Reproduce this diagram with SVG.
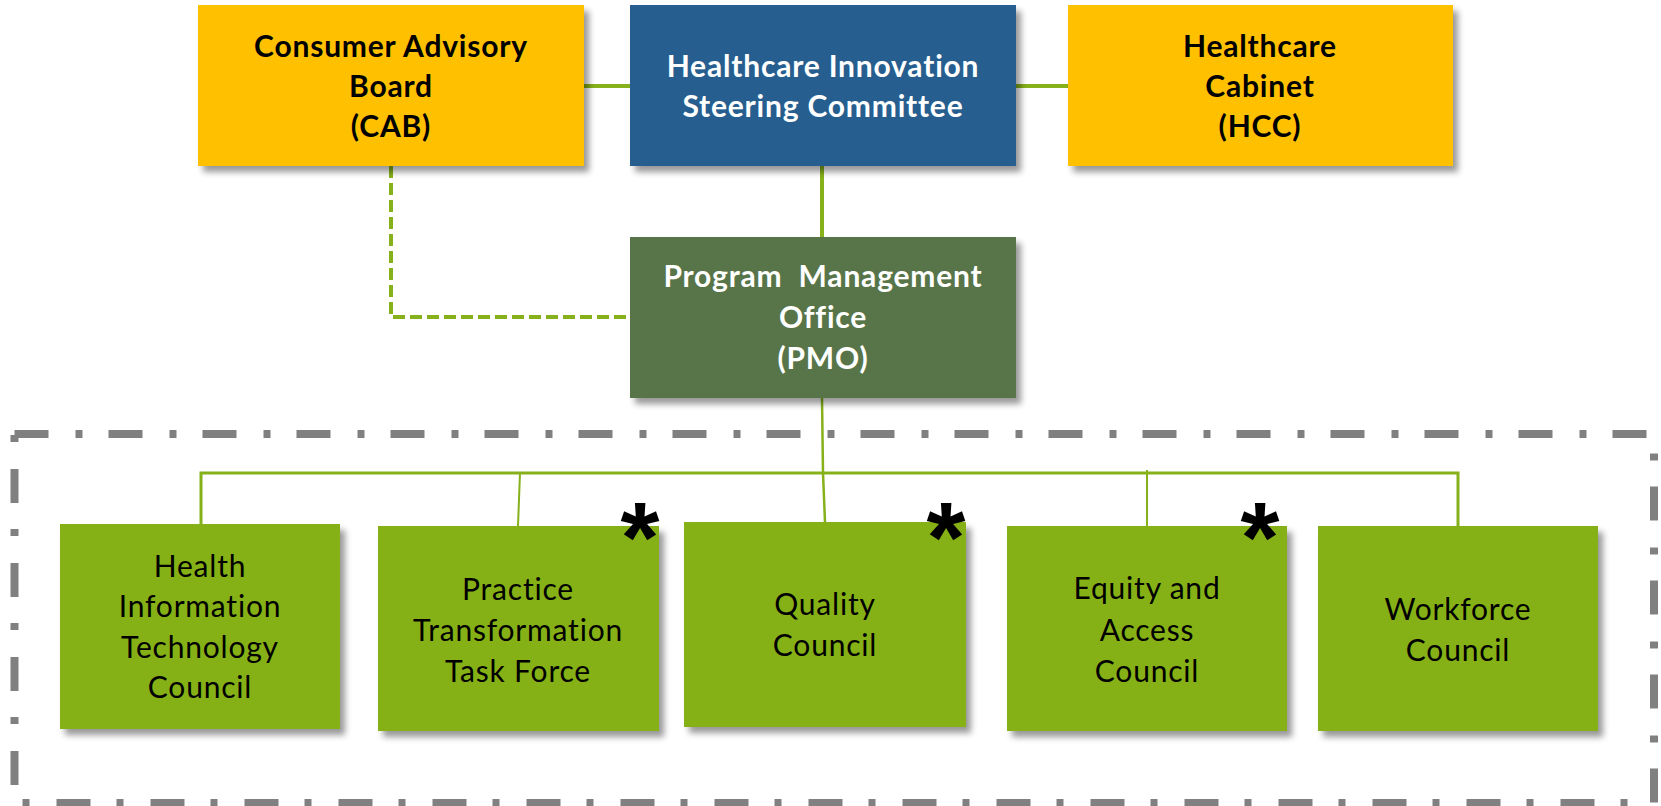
<svg xmlns="http://www.w3.org/2000/svg" width="1661" height="806" viewBox="0 0 1661 806">
<style>
.t{font-family:Lato,"Open Sans","Liberation Sans",sans-serif;font-size:30px;letter-spacing:0.8px;text-anchor:middle}
.b{font-weight:bold}
.w{fill:#ffffff}
.k{fill:#000000}
.ast{font-family:"Liberation Sans",Arial,sans-serif;font-size:100px;font-weight:bold;text-anchor:middle;fill:#000}
.c{fill:none;stroke:#86B11A}
</style>
<defs>
<filter id="sh" x="-10%" y="-10%" width="130%" height="130%">
<feDropShadow dx="5" dy="6" stdDeviation="3" flood-color="#000" flood-opacity="0.4"/>
</filter>
</defs>
<rect width="1661" height="806" fill="#ffffff"/>
<rect id="frame" x="14.5" y="434" width="1639.5" height="369" fill="none" stroke="#808080" stroke-width="8" stroke-dasharray="34 27 7 26"/>
<g id="connectors">
<line class="c" x1="584" y1="86" x2="630" y2="86" stroke-width="4"/>
<line class="c" x1="1016" y1="86" x2="1068" y2="86" stroke-width="4"/>
<line class="c" x1="822" y1="166" x2="822" y2="237" stroke-width="4"/>
<polyline class="c" points="391,166 391,317 630,317" stroke-width="4" stroke-dasharray="12 5"/>
<polyline class="c" points="822,398 823,473 825,522" stroke-width="2.5"/>
<polyline class="c" points="201,524 201,473 1458,473 1458,526" stroke-width="3"/>
<line class="c" x1="520" y1="473" x2="518" y2="526" stroke-width="2"/>
<line class="c" x1="1147" y1="470" x2="1147" y2="526" stroke-width="2"/>
</g>
<g id="cab">
<rect x="198" y="5" width="386" height="161" fill="#FFC000" filter="url(#sh)"/>
<text class="t b k" x="391" y="57">Consumer Advisory</text>
<text class="t b k" x="391" y="97">Board</text>
<text class="t b k" x="391" y="137">(CAB)</text>
</g>
<g id="hisc">
<rect x="630" y="5" width="386" height="161" fill="#285F8F" filter="url(#sh)"/>
<text class="t b w" x="823" y="77">Healthcare Innovation</text>
<text class="t b w" x="823" y="117">Steering Committee</text>
</g>
<g id="hcc">
<rect x="1068" y="5" width="385" height="161" fill="#FFC000" filter="url(#sh)"/>
<text class="t b k" x="1260" y="57">Healthcare</text>
<text class="t b k" x="1260" y="97">Cabinet</text>
<text class="t b k" x="1260" y="137">(HCC)</text>
</g>
<g id="pmo">
<rect x="630" y="237" width="386" height="161" fill="#587548" filter="url(#sh)"/>
<text class="t b w" x="823" y="287" xml:space="preserve">Program  Management</text>
<text class="t b w" x="823" y="328">Office</text>
<text class="t b w" x="823" y="369">(PMO)</text>
</g>
<g id="hit">
<rect x="60" y="524" width="280" height="205" fill="#86B117" filter="url(#sh)"/>
<text class="t k" x="200" y="577">Health</text>
<text class="t k" x="200" y="617">Information</text>
<text class="t k" x="200" y="658">Technology</text>
<text class="t k" x="200" y="698">Council</text>
</g>
<g id="ptt">
<rect x="378" y="526" width="281" height="205" fill="#86B117" filter="url(#sh)"/>
<text class="t k" x="518" y="600">Practice</text>
<text class="t k" x="518" y="641">Transformation</text>
<text class="t k" x="518" y="682">Task Force</text>
<text class="ast" x="640" y="572">*</text>
</g>
<g id="quality">
<rect x="684" y="522" width="282" height="205" fill="#86B117" filter="url(#sh)"/>
<text class="t k" x="825" y="615">Quality</text>
<text class="t k" x="825" y="656">Council</text>
<text class="ast" x="946" y="572">*</text>
</g>
<g id="equity">
<rect x="1007" y="526" width="280" height="205" fill="#86B117" filter="url(#sh)"/>
<text class="t k" x="1147" y="599">Equity and</text>
<text class="t k" x="1147" y="641">Access</text>
<text class="t k" x="1147" y="682">Council</text>
<text class="ast" x="1260" y="572">*</text>
</g>
<g id="workforce">
<rect x="1318" y="526" width="280" height="205" fill="#86B117" filter="url(#sh)"/>
<text class="t k" x="1458" y="620">Workforce</text>
<text class="t k" x="1458" y="661">Council</text>
</g>
</svg>
